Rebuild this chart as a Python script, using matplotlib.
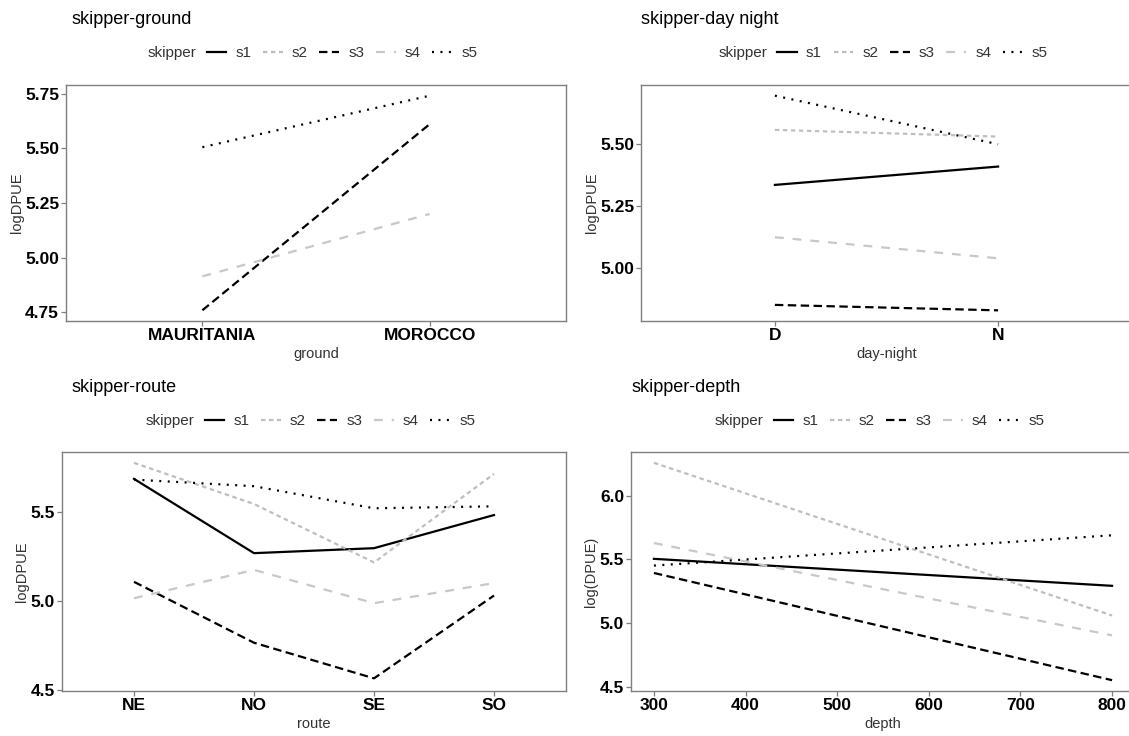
import numpy as np
import matplotlib.pyplot as plt
from matplotlib.lines import Line2D

plt.rcParams['font.family'] = ['Liberation Sans', 'DejaVu Sans']

skippers = ['s1', 's2', 's3', 's4', 's5']

# skipper-ground (only s3, s4, s5 present)
ground = ['MAURITANIA', 'MOROCCO']
ground_vals = {
    's3': [4.76, 5.61],
    's4': [4.915, 5.20],
    's5': [5.505, 5.74],
}

# skipper-day night
daynight = ['D', 'N']
daynight_vals = {
    's1': [5.336, 5.41],
    's2': [5.558, 5.531],
    's3': [4.852, 4.83],
    's4': [5.125, 5.04],
    's5': [5.696, 5.50],
}

# skipper-route
route = ['NE', 'NO', 'SE', 'SO']
route_vals = {
    's1': [5.685, 5.268, 5.296, 5.482],
    's2': [5.775, 5.544, 5.216, 5.713],
    's3': [5.107, 4.765, 4.565, 5.03],
    's4': [5.015, 5.174, 4.987, 5.10],
    's5': [5.681, 5.644, 5.52, 5.531],
}

# skipper-depth
depth = [300, 800]
depth_vals = {
    's1': [5.503, 5.291],
    's2': [6.257, 5.058],
    's3': [5.392, 4.55],
    's4': [5.627, 4.902],
    's5': [5.45, 5.688],
}

styles = {
    's1': dict(color='black', linestyle='-'),
    's2': dict(color='#BEBEBE', dashes=(2.0, 1.6)),
    's3': dict(color='black', dashes=(3.8, 2.0)),
    's4': dict(color='#C8C8C8', dashes=(4.0, 4.0)),
    's5': dict(color='black', dashes=(0.9, 2.9)),
}
LW = 1.6

W, H = 1129, 736
fig = plt.figure(figsize=(W / 100, H / 100), dpi=100)


def px_axes(left, right, top, bottom):
    return fig.add_axes([left / W, 1 - bottom / H, (right - left) / W, (bottom - top) / H])


def style_axes(ax, xlabel, ylabel):
    for sp in ax.spines.values():
        sp.set_color('#7F7F7F')
        sp.set_linewidth(1.0)
    ax.tick_params(colors='#7F7F7F', length=3.5, width=0.9, pad=1.5,
                   labelcolor='black', labelsize=12.5)
    ax.set_xlabel(xlabel, fontsize=10.5, color='#333333', labelpad=3)
    ax.set_ylabel(ylabel, fontsize=10.5, color='#333333', labelpad=1)


def draw_panel(ax, x, vals, title, xlabel, ylabel, title_x, title_y, leg_y):
    for s in skippers:
        if s in vals:
            ax.plot(x, vals[s], lw=LW, **styles[s])
    fig.text(title_x / W, 1 - title_y / H, title, fontsize=13, va='center', ha='left')
    style_axes(ax, xlabel, ylabel)
    # legend centred over the panel, title added to its left afterwards
    handles = [Line2D([], [], lw=LW, **styles[s]) for s in skippers]
    pos = ax.get_position()
    cx = pos.x0 + pos.width / 2 + 26 / W
    leg = fig.legend(handles, skippers, loc='center', ncol=5, frameon=False,
                     bbox_to_anchor=(cx, 1 - leg_y / H), fontsize=11,
                     handlelength=1.3, handletextpad=0.6, columnspacing=0.75,
                     borderpad=0, borderaxespad=0)
    for t in leg.get_texts():
        t.set_color('#333333')
    return leg


# top-left
ax1 = px_axes(66, 566, 85, 321)
xi = np.arange(len(ground))
leg1 = draw_panel(ax1, xi, ground_vals, 'skipper-ground', 'ground', 'logDPUE', 72, 19, 53)
ax1.set_xticks(xi, ground)
ax1.set_xlim(-0.6, len(ground) - 0.4)
ax1.set_yticks([4.75, 5.00, 5.25, 5.50, 5.75], ['4.75', '5.00', '5.25', '5.50', '5.75'])
ax1.set_ylim(4.711, 5.789)

# top-right
ax2 = px_axes(641, 1132, 85, 321)
xi = np.arange(len(daynight))
leg2 = draw_panel(ax2, xi, daynight_vals, 'skipper-day night', 'day-night', 'logDPUE', 641, 19, 53)
ax2.set_xticks(xi, daynight)
ax2.set_xlim(-0.6, len(daynight) - 0.4)
ax2.set_yticks([5.00, 5.25, 5.50], ['5.00', '5.25', '5.50'])
ax2.set_ylim(4.787, 5.739)

# bottom-left
ax3 = px_axes(62, 566, 452, 691)
xi = np.arange(len(route))
leg3 = draw_panel(ax3, xi, route_vals, 'skipper-route', 'route', 'logDPUE', 72, 388, 421)
ax3.set_xticks(xi, route)
ax3.set_xlim(-0.6, len(route) - 0.4)
ax3.set_yticks([4.5, 5.0, 5.5], ['4.5', '5.0', '5.5'])
ax3.set_ylim(4.494, 5.836)

# bottom-right
ax4 = px_axes(631, 1135, 452, 691)
leg4 = draw_panel(ax4, depth, depth_vals, 'skipper-depth', 'depth', 'log(DPUE)', 631, 388, 421)
ax4.set_xticks([300, 400, 500, 600, 700, 800])
ax4.set_xlim(275, 825)
ax4.set_yticks([4.5, 5.0, 5.5, 6.0], ['4.5', '5.0', '5.5', '6.0'])
ax4.set_ylim(4.465, 6.342)

for ax in (ax1, ax2, ax3, ax4):
    for lab in ax.get_xticklabels() + ax.get_yticklabels():
        lab.set_fontweight('bold')

# put "skipper" label just left of each legend
fig.canvas.draw()
renderer = fig.canvas.get_renderer()
for leg in (leg1, leg2, leg3, leg4):
    bb = leg.get_window_extent(renderer)
    fig.text((bb.x0 - 10) / W, (bb.y0 + bb.y1) / 2 / H, 'skipper', fontsize=11,
             color='#333333', ha='right', va='center')

fig.savefig('out.png', dpi=100)
